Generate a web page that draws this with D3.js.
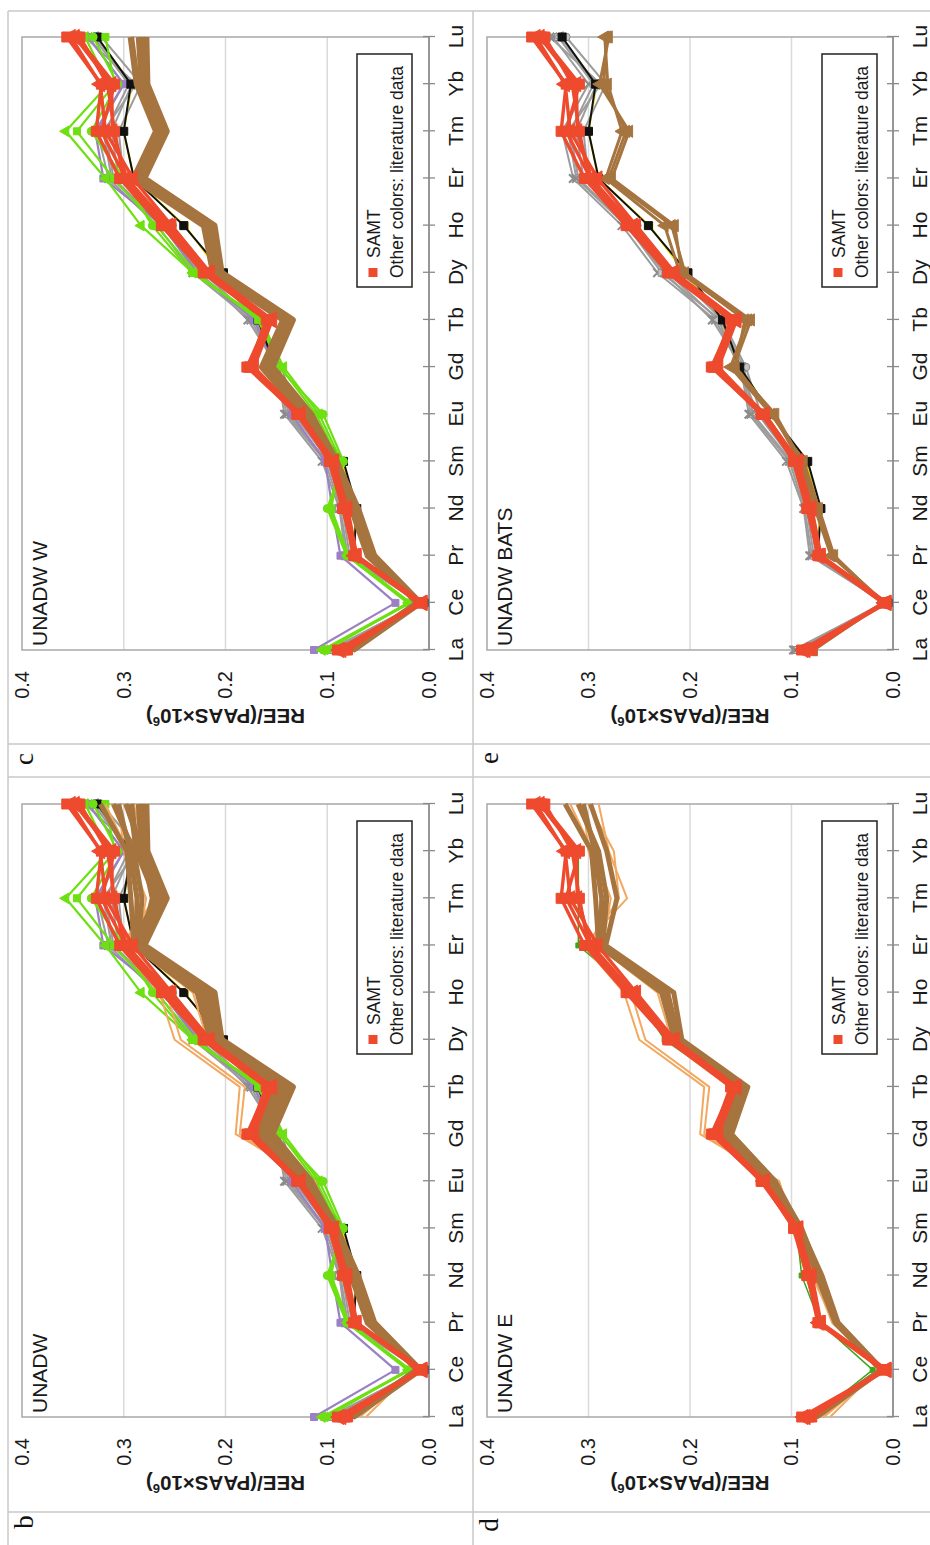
<!DOCTYPE html>
<html><head><meta charset="utf-8">
<script src="https://cdn.jsdelivr.net/npm/d3@7"></script>
<style>
body{margin:0;background:#fff}
svg{display:block}
text{font-family:"Liberation Sans",Arial,Helvetica,sans-serif}
</style>
</head><body>
<svg id="chart" width="930" height="1545"></svg>
<script>
// ---------- data ----------
const elements = ["La","Ce","Pr","Nd","Sm","Eu","Gd","Tb","Dy","Ho","Er","Tm","Yb","Lu"];
const yTicks = [0.0,0.1,0.2,0.3,0.4];
const gridValues = [0.1,0.2,0.3];

// SAMT samples (this study)
const samt1 = [0.090,0.008,0.072,0.082,0.097,0.129,0.179,0.158,0.221,0.263,0.304,0.327,0.322,0.356];
const samt2 = [0.086,0.006,0.071,0.080,0.094,0.126,0.175,0.155,0.217,0.256,0.297,0.311,0.312,0.348];
const samt3 = [0.080,0.010,0.074,0.084,0.096,0.130,0.177,0.160,0.222,0.260,0.300,0.309,0.316,0.343];
const samt4 = [0.088,0.007,0.073,0.081,0.093,0.127,0.172,0.154,0.215,0.253,0.291,0.318,0.323,0.352];
const samt5 = [0.083,0.009,0.072,0.085,0.098,0.128,0.176,0.157,0.219,0.258,0.298,0.322,0.309,0.346];

// literature data
const gray1 = [0.098,0.008,0.082,0.088,0.105,0.142,0.150,0.175,0.232,0.267,0.315,0.326,0.300,0.335];
const gray2 = [0.095,0.010,0.078,0.085,0.100,0.138,0.147,0.170,0.228,0.262,0.310,0.318,0.295,0.330];
const gray3 = [0.092,0.007,0.075,0.080,0.098,0.133,0.152,0.172,0.222,0.258,0.305,0.312,0.292,0.328];
const gray4 = [0.090,0.006,0.076,0.082,0.095,0.130,0.145,0.168,0.215,0.252,0.300,0.305,0.283,0.322];
const gray5 = [0.096,0.009,0.080,0.087,0.102,0.140,0.149,0.178,0.225,0.263,0.312,0.320,0.288,0.338];
const blackLit = [0.088,0.005,0.074,0.071,0.084,0.120,0.151,0.168,0.202,0.241,0.290,0.300,0.293,0.326];
const yellowLit = [0.086,0.006,0.074,0.072,0.086,0.121,0.150,0.170,0.205,0.240,0.290,0.300,0.292,0.327];
const purpleLit = [0.113,0.033,0.087,0.095,0.102,0.135,0.150,0.172,0.228,0.262,0.320,0.328,0.300,0.335];
const green1 = [0.105,0.020,0.080,0.098,0.086,0.108,0.143,0.165,0.232,0.283,0.318,0.357,0.315,0.338];
const green2 = [0.103,0.018,0.079,0.096,0.088,0.111,0.146,0.168,0.229,0.268,0.310,0.346,0.309,0.318];
const green3 = [0.100,0.021,0.081,0.100,0.084,0.104,0.148,0.163,0.233,0.272,0.300,0.332,0.306,0.330];
const greenE = [0.078,0.020,0.072,0.090,0.095,0.128,0.178,0.158,0.225,0.255,0.310,0.310,0.310,0.345];
const brownW1 = [0.080,0.010,0.060,0.076,0.097,0.124,0.164,0.143,0.212,0.221,0.290,0.268,0.287,0.293];
const brownW2 = [0.078,0.011,0.057,0.073,0.094,0.120,0.159,0.138,0.208,0.216,0.285,0.263,0.282,0.285];
const brownW3 = [0.075,0.009,0.054,0.070,0.091,0.116,0.154,0.134,0.204,0.211,0.280,0.258,0.277,0.278];
const brownW4 = [0.077,0.010,0.056,0.072,0.092,0.118,0.157,0.136,0.206,0.214,0.283,0.260,0.280,0.282];
const brownB1 = [0.080,0.008,0.060,0.075,0.090,0.116,0.157,0.140,0.205,0.218,0.280,0.263,0.285,0.282];
const brownB2 = [0.078,0.010,0.058,0.073,0.088,0.120,0.160,0.143,0.210,0.225,0.283,0.267,0.281,0.284];
const brownB3 = [0.082,0.009,0.061,0.077,0.092,0.118,0.155,0.146,0.208,0.215,0.277,0.260,0.289,0.280];
const brownE1 = [0.078,0.012,0.057,0.075,0.092,0.121,0.168,0.152,0.215,0.228,0.290,0.293,0.297,0.323];
const brownE2 = [0.076,0.011,0.055,0.072,0.090,0.118,0.163,0.147,0.211,0.222,0.286,0.282,0.290,0.310];
const brownE3 = [0.075,0.010,0.054,0.070,0.091,0.116,0.159,0.143,0.208,0.216,0.283,0.272,0.282,0.298];
const brownE4 = [0.077,0.012,0.056,0.073,0.093,0.120,0.165,0.149,0.213,0.225,0.288,0.287,0.294,0.305];
const orange1 = [0.062,0.015,0.055,0.077,0.098,0.112,0.190,0.186,0.250,0.265,0.305,0.262,0.280,0.290];
const orange2 = [0.068,0.013,0.058,0.080,0.100,0.118,0.186,0.181,0.244,0.258,0.300,0.270,0.275,0.300];
const orange3 = [0.074,0.012,0.060,0.078,0.096,0.125,0.172,0.158,0.218,0.232,0.292,0.282,0.290,0.312];
const orange4 = [0.072,0.010,0.057,0.076,0.094,0.122,0.168,0.152,0.213,0.226,0.286,0.278,0.296,0.318];
const orange5 = [0.070,0.011,0.056,0.074,0.093,0.119,0.165,0.148,0.210,0.221,0.296,0.285,0.300,0.305];

const legendLabels = ["SAMT","Other colors: literature data"];
const axisTitle = "REE/(PAAS×10";

// ---------- styles ----------
const styles = {
  samt:   {color:"#ee4a2e", width:3.4, marker:10},
  gray:   {color:"#9c9c9c", width:2,   marker:7},
  black:  {color:"#111111", width:2,   marker:8},
  yellow: {color:"#f2e200", width:2,   marker:7},
  purple: {color:"#9b80c4", width:2.2, marker:7},
  green:  {color:"#6ee012", width:2.2, marker:7},
  greenE: {color:"#3aa61a", width:1.5, marker:5},
  brownW: {color:"#a6743f", width:6.5, marker:0},
  brownB: {color:"#a6743f", width:3,   marker:8},
  brownE: {color:"#a6743f", width:5,   marker:0},
  orange: {color:"#f3a860", width:2,   marker:0}
};
const S = (values, kind, sym) => ({values, kind, sym});

const samtSet = [S(samt1,"samt","square"),S(samt2,"samt","triangle"),S(samt3,"samt","square"),S(samt4,"samt","triangle"),S(samt5,"samt","square")];
const graySet = [S(gray1,"gray","x"),S(gray2,"gray","square"),S(gray3,"gray","triangle"),S(gray4,"gray","circle"),S(gray5,"gray","x")];
const greenSet = [S(green1,"green","triangle"),S(green2,"green","square"),S(green3,"green","circle")];
const brownWSet = [S(brownW1,"brownW"),S(brownW2,"brownW"),S(brownW3,"brownW"),S(brownW4,"brownW")];
const brownBSet = [S(brownB1,"brownB","triangle"),S(brownB2,"brownB","triangle"),S(brownB3,"brownB","triangle")];
const brownESet = [S(brownE1,"brownE"),S(brownE2,"brownE"),S(brownE3,"brownE"),S(brownE4,"brownE")];
const orangeSet = [S(orange1,"orange"),S(orange2,"orange"),S(orange3,"orange"),S(orange4,"orange"),S(orange5,"orange")];

const panels = [
  {label:"c", name:"UNADW W", left:22, top:37, right:429, bottom:650, lab:[33,759],
   series:[S(yellowLit,"yellow","square"),...graySet,S(purpleLit,"purple","square"),S(blackLit,"black","square"),...greenSet,...brownWSet,...samtSet]},
  {label:"e", name:"UNADW BATS", left:487, top:37, right:893, bottom:650, lab:[498,758],
   series:[S(yellowLit,"yellow","square"),...graySet,S(blackLit,"black","square"),...brownBSet,...samtSet]},
  {label:"b", name:"UNADW", left:22, top:804, right:429, bottom:1417, lab:[33,1522],
   series:[S(yellowLit,"yellow","square"),...graySet,S(purpleLit,"purple","square"),S(blackLit,"black","square"),...greenSet,...orangeSet,...brownWSet,...brownESet,...samtSet]},
  {label:"d", name:"UNADW E", left:487, top:804, right:893, bottom:1417, lab:[498,1525],
   series:[S(greenE,"greenE","square"),...orangeSet,...brownESet,...samtSet]}
];

// ---------- drawing ----------
const svg = d3.select("#chart");
svg.append("rect").attr("width",930).attr("height",1545).attr("fill","#fff");

// table frame
const frame = svg.append("g").attr("stroke","#c9c9c9").attr("stroke-width",1.5);
[11,744,777,1512].forEach(yy => frame.append("line").attr("x1",8).attr("x2",930).attr("y1",yy).attr("y2",yy));
[8,473].forEach(xx => frame.append("line").attr("x1",xx).attr("x2",xx).attr("y1",11).attr("y2",1545));

const symMap = {square:d3.symbolSquare, triangle:d3.symbolTriangle, circle:d3.symbolCircle, x:(d3.symbolTimes||d3.symbolCross)};

panels.forEach(p => {
  const W = p.bottom - p.top, H = p.right - p.left;
  const g = svg.append("g").attr("transform",`translate(${p.left},${p.bottom}) rotate(-90)`);
  const x = d3.scalePoint().domain(elements).range([0,W]);
  const y = d3.scaleLinear().domain([0,0.4]).range([H,0]);

  g.selectAll(".grid").data(gridValues).join("line")
    .attr("x1",0).attr("x2",W).attr("y1",d=>y(d)).attr("y2",d=>y(d))
    .attr("stroke","#dadada").attr("stroke-width",1.5);
  g.append("rect").attr("x",0).attr("y",0).attr("width",W).attr("height",H)
    .attr("fill","none").attr("stroke","#a8a8a8").attr("stroke-width",1.5);

  // y axis labels
  const ya = g.append("g").call(d3.axisLeft(y).tickValues(yTicks).tickFormat(d3.format(".1f")).tickSize(0).tickPadding(21));
  ya.select(".domain").remove();
  ya.selectAll("text").attr("font-size",20).attr("fill","#1a1a1a").style("font-family",'"Liberation Sans",Arial,sans-serif');

  // x axis with crossing ticks
  const xa = g.append("g").attr("transform",`translate(0,${H-6})`).call(d3.axisBottom(x).tickSize(12).tickSizeOuter(0));
  xa.select(".domain").remove();
  xa.selectAll(".tick line").attr("stroke","#8a8a8a").attr("stroke-width",1.3);
  xa.selectAll("text").attr("y",40).attr("dy",0).attr("font-size",21).attr("fill","#1a1a1a").style("font-family",'"Liberation Sans",Arial,sans-serif');
  g.append("line").attr("x1",0).attr("x2",W).attr("y1",H).attr("y2",H).attr("stroke","#8a8a8a").attr("stroke-width",1.5);

  // axis title
  const t = g.append("text").attr("transform",`translate(-59,${H/2}) rotate(-90)`)
    .attr("text-anchor","middle").attr("font-size",20.5).attr("font-weight","bold").attr("fill","#1a1a1a").text(axisTitle);
  t.append("tspan").attr("font-size",13).attr("dy",-8).text("6");
  t.append("tspan").attr("dy",8).text(")");

  // panel name
  g.append("text").attr("x",4).attr("y",25).attr("font-size",21).attr("fill","#1a1a1a").text(p.name);

  // series
  const line = d3.line().x((d,i)=>x(elements[i])).y(d=>y(d));
  p.series.forEach(s => {
    const st = styles[s.kind];
    g.append("path").datum(s.values).attr("d",line).attr("fill","none")
      .attr("stroke",st.color).attr("stroke-width",st.width).attr("stroke-linejoin","round");
    if (s.sym && st.marker > 0) {
      const sym = d3.symbol().type(symMap[s.sym]).size(st.marker*st.marker);
      const isX = s.sym === "x";
      g.selectAll(null).data(s.values).join("path")
        .attr("transform",(d,i)=>`translate(${x(elements[i])},${y(d)})`)
        .attr("d",sym)
        .attr("fill", isX ? "none" : (s.kind==="gray" ? "#c4c4c4" : st.color))
        .attr("stroke", s.kind==="gray" ? "#8c8c8c" : st.color)
        .attr("stroke-width", isX ? 2 : 1);
    }
  });

  // legend
  const lg = g.append("g");
  lg.append("rect").attr("x",W-250).attr("y",335).attr("width",233).attr("height",55)
    .attr("fill","#fff").attr("stroke","#222").attr("stroke-width",1.5);
  lg.append("rect").attr("x",W-240).attr("y",346.5).attr("width",9).attr("height",9).attr("fill",styles.samt.color);
  lg.append("text").attr("x",W-221).attr("y",358).attr("font-size",17.5).attr("fill","#1a1a1a").text(legendLabels[0]);
  lg.append("text").attr("x",W-241).attr("y",381).attr("font-size",17.5).attr("fill","#1a1a1a").text(legendLabels[1]);

  // panel letter
  svg.append("text").attr("transform",`translate(${p.lab[0]},${p.lab[1]}) rotate(-90)`)
    .attr("text-anchor","middle").attr("font-size",27).attr("fill","#111")
    .style("font-family",'"Liberation Serif","Times New Roman",serif').text(p.label);
});
</script>
</body></html>
